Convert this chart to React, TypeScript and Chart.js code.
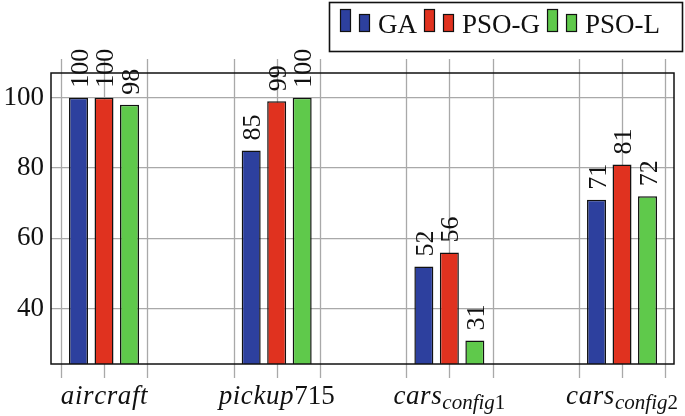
import { useEffect, useRef } from 'react';
import { Chart, registerables } from 'chart.js';

Chart.register(...registerables);

const categories = ['aircraft', 'pickup715', 'cars_config1', 'cars_config2'];
const seriesNames = ['GA', 'PSO-G', 'PSO-L'];
const gaValues = [100, 85, 52, 71];
const psoGValues = [100, 99, 56, 81];
const psoLValues = [98, 100, 31, 72];
const yTicks = [40, 60, 80, 100];
const xGridOffsets = [-0.25, 0, 0.25];

// label pieces: it = italic, rm = upright, sub = subscript
const xLabelParts = [
  [{ t: 'aircraft', s: 'it' }],
  [{ t: 'pickup', s: 'it' }, { t: '715', s: 'rm' }],
  [{ t: 'cars', s: 'it' }, { t: 'config', s: 'subit' }, { t: '1', s: 'subrm' }],
  [{ t: 'cars', s: 'it' }, { t: 'config', s: 'subit' }, { t: '2', s: 'subrm' }],
];

const colors = ['#2d409e', '#e0321f', '#5fc94b'];
const SERIF = "'Liberation Serif', 'Times New Roman', serif";

export default function App() {
  const ref = useRef<HTMLCanvasElement>(null);
  useEffect(() => {
    document.body.style.margin = '0';
    const series = [gaValues, psoGValues, psoLValues];

    const decor = {
      id: 'decor',
      beforeDatasetsDraw(chart: any) {
        const { ctx, chartArea } = chart;
        const xs = chart.scales.x;
        ctx.save();
        ctx.strokeStyle = '#a9a9a9';
        ctx.lineWidth = 1.3;
        categories.forEach((_, i) => {
          xGridOffsets.forEach((o) => {
            const px = Math.round(xs.getPixelForValue(i + o)) + 0.5;
            ctx.beginPath();
            ctx.moveTo(px, chartArea.top - 14);
            ctx.lineTo(px, chartArea.bottom + 14);
            ctx.stroke();
          });
        });
        ctx.restore();
      },
      afterDatasetsDraw(chart: any) {
        const { ctx, chartArea } = chart;
        ctx.save();
        // frame
        ctx.strokeStyle = '#111';
        ctx.lineWidth = 1.5;
        ctx.strokeRect(chartArea.left, chartArea.top, chartArea.right - chartArea.left, chartArea.bottom - chartArea.top);
        // data labels
        ctx.fillStyle = '#111';
        ctx.font = `26px ${SERIF}`;
        ctx.textAlign = 'left';
        ctx.textBaseline = 'alphabetic';
        chart.data.datasets.forEach((ds: any, di: number) => {
          const meta = chart.getDatasetMeta(di);
          meta.data.forEach((el: any, i: number) => {
            const v = series[di][i];
            ctx.save();
            ctx.translate(el.x + 9, el.y - 10);
            ctx.rotate(-Math.PI / 2);
            ctx.fillText(String(v), 0, 0);
            ctx.restore();
          });
        });
        // x labels
        const xs = chart.scales.x;
        const fontFor = (s: string) =>
          s === 'it' ? `italic 27px ${SERIF}` : s === 'rm' ? `27px ${SERIF}` : s === 'subit' ? `italic 21px ${SERIF}` : `21px ${SERIF}`;
        xLabelParts.forEach((parts, i) => {
          const cx = xs.getPixelForValue(i);
          let total = 0;
          const widths = parts.map((p) => {
            ctx.font = fontFor(p.s);
            const w = ctx.measureText(p.t).width + (p.s === 'it' ? p.t.length * 0.6 : 0);
            total += w;
            return w;
          });
          let x = cx - total / 2;
          parts.forEach((p, k) => {
            ctx.font = fontFor(p.s);
            const sub = p.s.startsWith('sub');
            const y = sub ? 409 : 404;
            if (p.s === 'it') {
              let xx = x;
              for (const ch of p.t) {
                ctx.fillText(ch, xx, y);
                xx += ctx.measureText(ch).width + 0.6;
              }
            } else {
              ctx.fillText(p.t, x, y);
            }
            x += widths[k];
          });
        });
        ctx.restore();
      },
      afterDraw(chart: any) {
        const { ctx } = chart;
        ctx.save();
        ctx.fillStyle = '#fff';
        ctx.fillRect(329, 2, 354, 50);
        ctx.strokeStyle = '#111';
        ctx.lineWidth = 1.6;
        ctx.strokeRect(329.5, 2.5, 353, 49);
        ctx.font = `27px ${SERIF}`;
        ctx.textBaseline = 'alphabetic';
        ctx.textAlign = 'left';
        let x = 340;
        seriesNames.forEach((name, i) => {
          ctx.fillStyle = colors[i];
          ctx.lineWidth = 1.2;
          ctx.strokeStyle = '#111';
          ctx.fillRect(x, 9, 11, 23);
          ctx.strokeRect(x + 0.5, 9.5, 10, 22);
          x += 19;
          ctx.fillRect(x, 14, 11, 18);
          ctx.strokeRect(x + 0.5, 14.5, 10, 17);
          x += 19;
          ctx.fillStyle = '#111';
          ctx.fillText(name, x, 33);
          x += ctx.measureText(name).width + 7;
        });
        ctx.restore();
      },
    };

    const chart = new Chart(ref.current!, {
      type: 'bar',
      data: {
        datasets: series.map((vals, di) => ({
          label: seriesNames[di],
          data: vals.map((v, i) => ({ x: i, y: v })),
          backgroundColor: colors[di],
          borderColor: '#111',
          borderWidth: 1.5,
          categoryPercentage: 0.443,
          barPercentage: 0.745,
        })),
      },
      options: {
        responsive: false,
        animation: false,
        layout: { padding: { top: 73, right: 11, bottom: 52, left: 0 } },
        plugins: { legend: { display: false }, tooltip: { enabled: false } },
        scales: {
          x: {
            type: 'linear',
            display: false,
            offset: false,
            min: -0.307,
            max: 3.301,
            grid: { offset: false },
            afterBuildTicks: (s: any) => {
              s.ticks = categories.map((_, i) => ({ value: i }));
            },
          },
          y: {
            min: 24.3,
            max: 107,
            afterBuildTicks: (s: any) => {
              s.ticks = yTicks.map((v) => ({ value: v }));
            },
            afterFit: (s: any) => {
              s.width = 51;
            },
            border: { display: false },
            grid: { color: '#a9a9a9', lineWidth: 1.3, drawTicks: false },
            ticks: { color: '#111', padding: 7, font: { family: SERIF, size: 27 } },
          },
        },
      },
      plugins: [decor],
    } as any);
    return () => chart.destroy();
  }, []);
  return <canvas ref={ref} width={685} height={416} style={{ display: 'block' }} />;
}
